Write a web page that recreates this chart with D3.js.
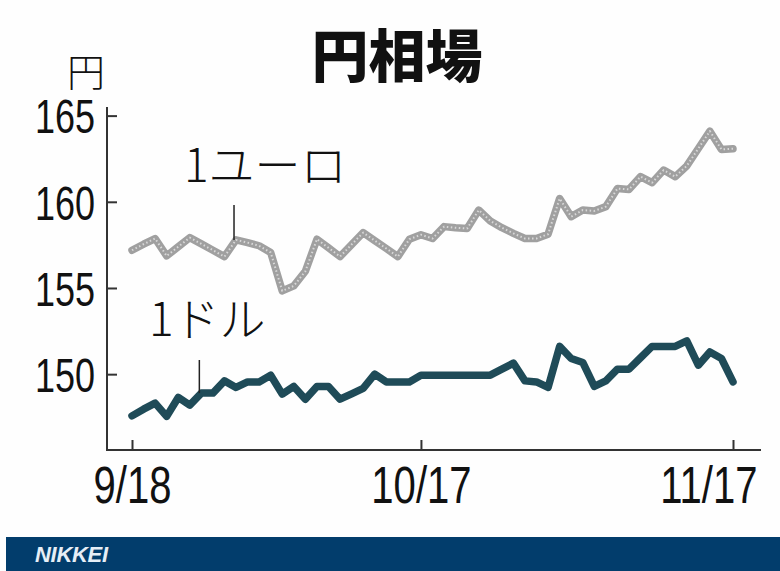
<!DOCTYPE html>
<html>
<head>
<meta charset="utf-8">
<script src="https://cdn.jsdelivr.net/npm/d3@7"></script>
<style>
  body { margin: 0; background: #fff; }
  svg { display: block; }
</style>
</head>
<body>
<svg id="canvas" width="780" height="571"></svg>
<script>
// trading days (Mon-Sat) from 9/18 to 11/17
let dates = [
  "9/18", "9/19", "9/20", "9/21", "9/22", "9/23",
  "9/25", "9/26", "9/27", "9/28", "9/29", "9/30",
  "10/2", "10/3", "10/4", "10/5", "10/6", "10/7",
  "10/9", "10/10", "10/11", "10/12", "10/13", "10/14",
  "10/16", "10/17", "10/18", "10/19", "10/20", "10/21",
  "10/23", "10/24", "10/25", "10/26", "10/27", "10/28",
  "10/30", "10/31", "11/1", "11/2", "11/3", "11/4",
  "11/6", "11/7", "11/8", "11/9", "11/10", "11/11",
  "11/13", "11/14", "11/15", "11/16", "11/17"
];

let euroValues = [
  157.19, 157.54, 157.87, 156.86, 157.39, 157.92,
  157.56, 157.19, 156.82, 157.79, 157.63, 157.45,
  157.06, 154.83, 155.12, 155.97, 157.83, 157.33,
  156.82, 157.52, 158.21, 157.75, 157.29, 156.82,
  157.83, 158.09, 157.87, 158.56, 158.49, 158.45,
  159.52, 158.89, 158.50, 158.17, 157.87, 157.87,
  158.12, 160.19, 159.14, 159.52, 159.47, 159.72,
  160.77, 160.72, 161.46, 161.11, 161.84, 161.46,
  162.08, 163.09, 164.10, 163.04, 163.08
];

let dollarValues = [
  147.58, 147.97, 148.32, 147.55, 148.65, 148.20,
  148.90, 148.90, 149.61, 149.23, 149.55, 149.55,
  149.94, 148.84, 149.29, 148.55, 149.29, 149.29,
  148.55, 148.86, 149.17, 150.00, 149.55, 149.55,
  149.55, 149.94, 149.94, 149.94, 149.94, 149.94,
  149.94, 149.94, 150.29, 150.64, 149.61, 149.55,
  149.23, 151.61, 150.91, 150.68, 149.29, 149.61,
  150.29, 150.29, 150.95, 151.61, 151.61, 151.61,
  151.93, 150.52, 151.29, 150.91, 149.55
];

let yTicks = [150, 155, 160, 165];
let xTicks = ["9/18", "10/17", "11/17"];

let canvas = d3.select("#canvas");

const jpFont = "'Noto Sans CJK JP', 'Noto Sans', sans-serif";
const numFont = "'Liberation Sans', Arial, sans-serif";

let xScale = d3.scalePoint().domain(dates).range([132, 733]);
let yScale = d3.scaleLinear().domain([145.6, 165.5]).range([450, 107]);

canvas.append("rect").attr("width", 780).attr("height", 571).attr("fill", "#fefefe");

// title and unit
canvas.append("text")
  .text("円相場")
  .attr("x", 397).attr("y", 77)
  .attr("text-anchor", "middle")
  .attr("font-family", jpFont)
  .attr("font-weight", 900)
  .attr("font-size", "57px")
  .attr("fill", "#111");

canvas.append("text")
  .text("円")
  .attr("x", 86).attr("y", 86)
  .attr("text-anchor", "middle")
  .attr("font-family", jpFont)
  .attr("font-weight", 300)
  .attr("font-size", "38px")
  .attr("fill", "#111");

// axes
let yAxis = d3.axisLeft(yScale)
  .tickValues(yTicks)
  .tickSize(-10)
  .tickSizeOuter(0)
  .tickPadding(12);

let xAxis = d3.axisBottom(xScale)
  .tickValues(xTicks)
  .tickSize(-10)
  .tickSizeOuter(0)
  .tickPadding(16);

let yG = canvas.append("g").attr("transform", "translate(107,0)").call(yAxis);
let xG = canvas.append("g").attr("transform", "translate(0,450)").call(xAxis);

[yG, xG].forEach((g) => {
  g.select(".domain").remove();
  g.selectAll(".tick line").attr("stroke", "#333").attr("stroke-width", 2);
  g.selectAll(".tick text")
    .attr("fill", "#111")
    .attr("font-family", numFont);
});

// the numbers are set in a condensed face, squeeze them horizontally
const ySquash = 0.75;
const xSquash = 0.77;
yG.selectAll(".tick text")
  .attr("font-size", "48px")
  .attr("dy", "0.36em")
  .attr("x", -12 / ySquash)
  .attr("transform", `scale(${ySquash},1)`);

xG.selectAll(".tick text")
  .attr("font-size", "52px")
  .attr("transform", `scale(${xSquash},1)`);

// last date label sits flush with the axis end
xG.selectAll(".tick text")
  .filter((d) => d === xTicks[xTicks.length - 1])
  .attr("text-anchor", "end")
  .attr("x", 24 / xSquash);

canvas.append("line")
  .attr("x1", 107).attr("y1", 107).attr("x2", 107).attr("y2", 451)
  .attr("stroke", "#333").attr("stroke-width", 2);
canvas.append("line")
  .attr("x1", 106).attr("y1", 450).attr("x2", 761).attr("y2", 450)
  .attr("stroke", "#333").attr("stroke-width", 2);

// lines
let lineGen = (values) => d3.line()
  .x((d, i) => xScale(dates[i]))
  .y((d) => yScale(d))(values);

canvas.append("path")
  .attr("d", lineGen(euroValues))
  .attr("fill", "none")
  .attr("stroke", "#a0a0a0")
  .attr("stroke-width", 7.5)
  .attr("stroke-linejoin", "round")
  .attr("stroke-linecap", "round");

canvas.append("path")
  .attr("d", lineGen(euroValues))
  .attr("fill", "none")
  .attr("stroke", "#d8d8d8")
  .attr("stroke-width", 2)
  .attr("stroke-dasharray", "1.5 2.5")
  .attr("stroke-linejoin", "round");

canvas.append("path")
  .attr("d", lineGen(dollarValues))
  .attr("fill", "none")
  .attr("stroke", "#1f4b58")
  .attr("stroke-width", 7.5)
  .attr("stroke-linejoin", "round")
  .attr("stroke-linecap", "round");

// labels with leader lines
let labels = [
  { text: "1ユーロ", x: 184, y: 182, at: "9/28", values: euroValues, top: 205 },
  { text: "1ドル", x: 149, y: 336, at: "9/25", values: dollarValues, top: 360 }
];

labels.forEach((l) => {
  let i = dates.indexOf(l.at);
  canvas.append("line")
    .attr("x1", xScale(l.at) - 2).attr("x2", xScale(l.at) - 2)
    .attr("y1", l.top).attr("y2", yScale(l.values[i]))
    .attr("stroke", "#222").attr("stroke-width", 1.5);
  canvas.append("text")
    .text(l.text)
    .attr("x", l.x).attr("y", l.y)
    .attr("font-family", jpFont)
    .attr("font-weight", 300)
    .attr("font-size", "46px")
    .attr("fill", "#111");
});

// footer
canvas.append("rect")
  .attr("x", 6).attr("y", 537)
  .attr("width", 774).attr("height", 34)
  .attr("fill", "#023d6c");

canvas.append("text")
  .text("NIKKEI")
  .attr("x", 35).attr("y", 562)
  .attr("font-family", "'Liberation Sans', Arial, sans-serif")
  .attr("font-weight", "bold")
  .attr("font-style", "italic")
  .attr("font-size", "22px")
  .attr("letter-spacing", "-0.3")
  .attr("fill", "#e6eef6");
</script>
</body>
</html>
